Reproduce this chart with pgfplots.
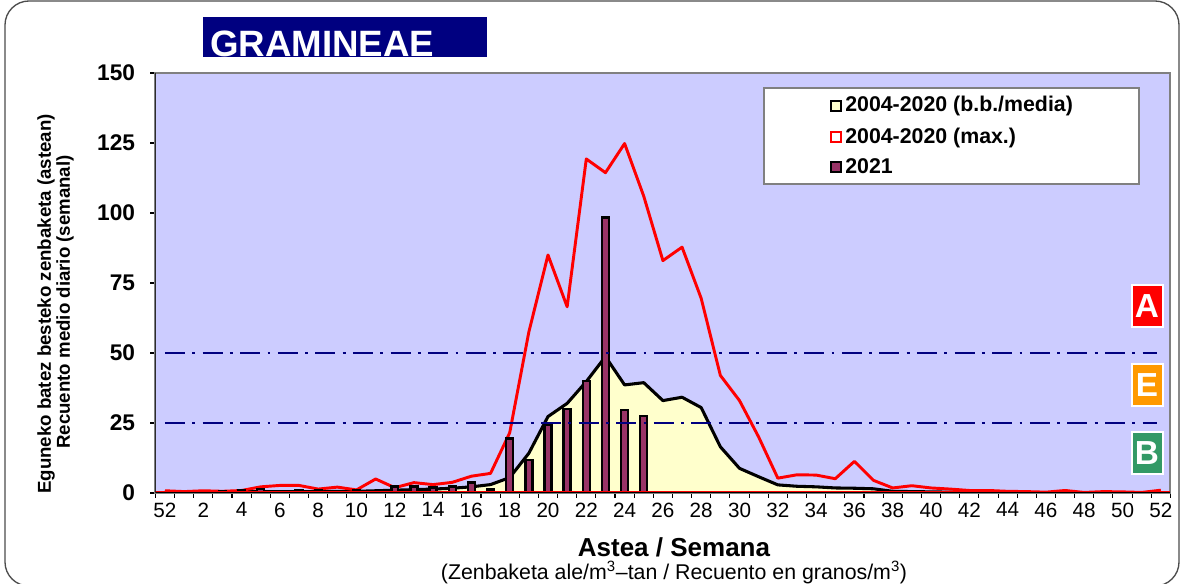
\documentclass[border=0pt]{standalone}
\usepackage{pgfplots}
\pgfplotsset{compat=1.18}
\usepackage{fontspec}
\setmainfont{Liberation Sans}
\definecolor{bgblue}{HTML}{CCCCFF}
\definecolor{navy}{HTML}{000080}
\definecolor{barpurple}{HTML}{993366}
\definecolor{areayellow}{HTML}{FFFFCC}
\definecolor{boxred}{HTML}{FF0000}
\definecolor{boxorange}{HTML}{FF9900}
\definecolor{boxgreen}{HTML}{339966}
\definecolor{framegray}{HTML}{808080}

\pgfplotstableread{
k mean
0 0.3
1 0.2
2 0.2
3 0.3
4 0.4
5 0.5
6 0.5
7 0.5
8 0.5
9 0.6
10 0.6
11 0.8
12 1.0
13 1.2
14 1.4
15 1.7
16 2.2
17 3.0
18 5.5
19 14.2
20 27.3
21 32.0
22 39.8
23 48.7
24 38.6
25 39.4
26 33.0
27 34.2
28 30.5
29 16.5
30 8.8
31 5.8
32 2.9
33 2.4
34 2.2
35 1.8
36 1.7
37 1.5
38 0.6
39 0.5
40 0.4
41 0.3
42 0.2
43 0.2
44 0.2
45 0.1
46 0.1
47 0.1
48 0.1
49 0.1
50 0.1
51 0.1
52 0.2
}\meantable

\pgfplotstableread{
k max
0 0.8
1 0.5
2 0.8
3 0.6
4 0.9
5 2.2
6 2.7
7 2.7
8 1.4
9 2.1
10 1.1
11 5.0
12 1.9
13 3.7
14 3.0
15 3.8
16 6.0
17 7.0
18 21.5
19 57.5
20 85.0
21 66.5
22 119.3
23 114.4
24 124.8
25 106.0
26 83.0
27 87.8
28 69.5
29 42.0
30 33.0
31 20.0
32 5.3
33 6.5
34 6.4
35 5.1
36 11.3
37 4.5
38 1.8
39 2.6
40 1.8
41 1.4
42 0.9
43 0.9
44 0.6
45 0.5
46 0.3
47 0.9
48 0.2
49 0.5
50 0.4
51 0.2
52 1.0
}\maxtable

\pgfplotstableread{
k val
0 0.3
3 0.5
4 1.1
5 1.5
6 0.7
7 1.0
8 1.1
9 0.8
10 0.9
11 0.8
12 2.3
13 2.3
14 2.0
15 2.3
16 3.7
17 1.3
18 19.5
19 11.8
20 24.3
21 29.9
22 40.0
23 98.4
24 29.6
25 27.5
}\bartable

\begin{document}
\begin{tikzpicture}[x=0.75pt,y=0.75pt]
\path[use as bounding box] (0,0) rectangle (1181,584);
\draw[line width=1pt, black!70, rounded corners=18pt] (5,-2) rectangle (1179,583);

\begin{axis}[
  at={(116.55pt,68.25pt)}, anchor=south west,
  scale only axis, width=761.25pt, height=315pt,
  xmin=-0.5, xmax=52.5, ymin=0, ymax=150,
  axis background/.style={fill=bgblue},
  axis line style={draw=framegray, line width=1.5pt},
  xtick={0,2,...,52},
  xticklabels={52,2,4,6,8,10,12,14,16,18,20,22,24,26,28,30,32,34,36,38,40,42,44,46,48,50,52},
  minor xtick={-0.5,0.5,...,52.5},
  ytick={0,25,...,150},
  tick align=outside,
  xtick pos=bottom, ytick pos=left,
  major tick length=3.75pt, minor tick length=3.75pt,
  major x tick style={draw=none},
  minor x tick style={black, line width=0.8pt},
  major y tick style={black, line width=0.8pt},
  /pgf/number format/assume math mode=true,
  xticklabel style={font=\fontsize{15.5}{15.5}\selectfont},
  yticklabel style={font=\bfseries\fontsize{17}{17}\selectfont, xshift=-8pt},
  clip=true,
]
\addplot[fill=areayellow, draw=none] table[x=k,y=mean] {\meantable} \closedcycle;
\addplot[black, line width=2.3pt, line join=round] table[x=k,y=mean] {\meantable};
\addplot[red, line width=2.2pt, line join=round] table[x=k,y=max] {\maxtable};
\addplot[ybar, bar width=5.2pt, bar shift=0pt, fill=barpurple, draw=black, line width=1.8pt] table[x=k,y=val] {\bartable};
\addplot[navy, line width=2.1pt, dash pattern=on 15pt off 5.5pt on 2.2pt off 5.5pt] coordinates {(0,50) (51.8,50)};
\addplot[navy, line width=2.1pt, dash pattern=on 15pt off 5.5pt on 2.2pt off 5.5pt] coordinates {(0,25) (51.8,25)};
\addplot[red, line width=1.2pt] coordinates {(-0.5,0.5) (52.5,0.5)};
\draw[black, line width=1.5pt] (rel axis cs:0,1) -- (rel axis cs:0,0) -- (rel axis cs:1,0);
\end{axis}

% title
\fill[navy] (203,567) rectangle (487,527);
\node[anchor=base west, inner sep=0pt, text=white, font=\bfseries\fontsize{27.5}{27.5}\selectfont] at (210,527.5) {GRAMINEAE};

% legend
\draw[framegray, fill=white, line width=0.8pt] (764,496) rectangle (1139,400);
\draw[black, fill=areayellow, line width=1.5pt] (830.5,483) rectangle (840.5,473);
\draw[red, fill=white, line width=1.5pt] (830.5,452) rectangle (840.5,442);
\draw[black, fill=barpurple, line width=1.5pt] (830.5,422) rectangle (840.5,412);
\node[anchor=base west, inner sep=0pt, font=\bfseries\fontsize{16}{16}\selectfont] at (845,472.3) {2004-2020 (b.b./media)};
\node[anchor=base west, inner sep=0pt, font=\bfseries\fontsize{16}{16}\selectfont] at (845,440) {2004-2020 (max.)};
\node[anchor=base west, inner sep=0pt, font=\bfseries\fontsize{16}{16}\selectfont] at (845,410) {2021};

% risk boxes
\node[fill=boxred, draw=white, line width=1.5pt, minimum width=23.25pt, minimum height=31.5pt, inner sep=0pt, text=white, font=\bfseries\fontsize{25}{25}\selectfont] at (1147,278) {A};
\node[fill=boxorange, draw=white, line width=1.5pt, minimum width=23.25pt, minimum height=31.5pt, inner sep=0pt, text=white, font=\bfseries\fontsize{25}{25}\selectfont] at (1147,199) {E};
\node[fill=boxgreen, draw=white, line width=1.5pt, minimum width=23.25pt, minimum height=31.5pt, inner sep=0pt, text=white, font=\bfseries\fontsize{25}{25}\selectfont] at (1147,131) {B};

% axis titles
\node[anchor=base, inner sep=0pt, font=\bfseries\fontsize{19.5}{19.5}\selectfont] at (674,27) {Astea / Semana};
\node[anchor=base, inner sep=0pt, font=\fontsize{16}{16}\selectfont] at (674,4) {(Zenbaketa ale/m\textsuperscript{3}–tan / Recuento en granos/m\textsuperscript{3})};
\node[rotate=90, inner sep=0pt, font=\bfseries\fontsize{14}{14}\selectfont] at (46,280) {Eguneko batez besteko zenbaketa (astean)};
\node[rotate=90, inner sep=0pt, font=\bfseries\fontsize{14}{14}\selectfont] at (65,282) {Recuento medio diario (semanal)};
\end{tikzpicture}
\end{document}
